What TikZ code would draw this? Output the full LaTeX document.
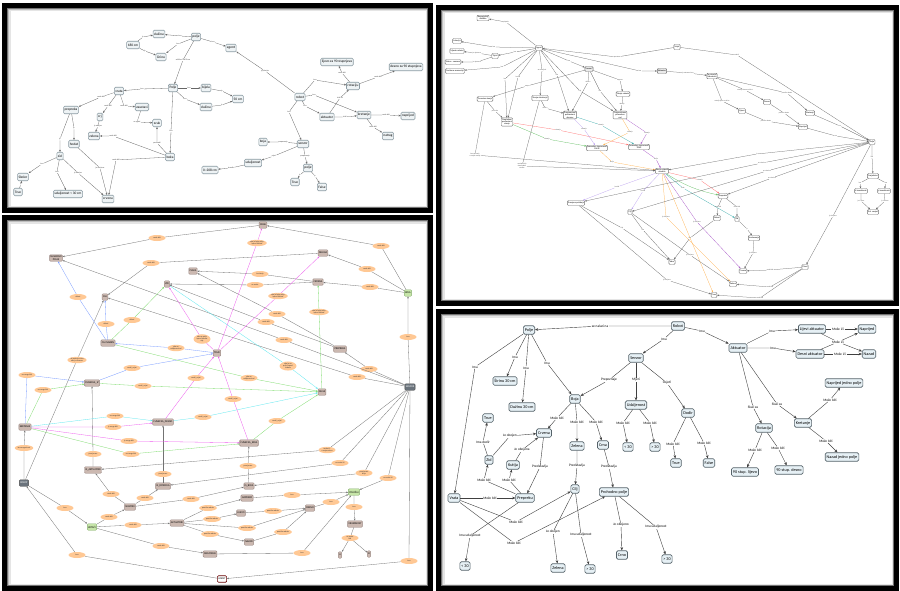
\documentclass[tikz,border=0pt]{standalone}
\usepackage{fontspec}
\setmainfont{Carlito}
\usetikzlibrary{arrows.meta,shapes.geometric}
\definecolor{nbA}{HTML}{EEF3F5}
\definecolor{dbA}{HTML}{8A9AA2}
\definecolor{nbD}{HTML}{E6F0F5}
\definecolor{dbD}{HTML}{56636A}
\definecolor{taupe}{HTML}{CBB8B0}
\definecolor{taupeD}{HTML}{9C8A84}
\definecolor{orn}{HTML}{FFC894}
\definecolor{grn}{HTML}{C6E5A8}
\definecolor{grnD}{HTML}{88B070}
\definecolor{slate}{HTML}{6A737C}
\definecolor{lblue}{HTML}{7A9CFF}
\definecolor{lgreen}{HTML}{7EDC6E}
\definecolor{lcyan}{HTML}{5CE8F0}
\definecolor{lmag}{HTML}{EE5CEE}
\definecolor{cRed}{HTML}{FF6B6B}
\definecolor{cGrn}{HTML}{5DBB5D}
\definecolor{cTeal}{HTML}{3AAAAA}
\definecolor{cPur}{HTML}{A855C8}
\definecolor{cOrg}{HTML}{FFB04A}
\definecolor{cVio}{HTML}{BBA0F0}
\newcommand\LK[7]{\node[#1] (#2) at (#3) {#4}; \draw[#5] (#6) -- (#2) -- (#7);}
\newcommand\EL[4]{\draw[#1] (#2) -- (#3) -- (#4);}
\newcommand\panelframe[4]{%
 \fill[black] (#1,#2) rectangle (#3,#4);
 \fill[black!55] ({#1+5},{#2+5}) rectangle ({#3-5},{#4-5});
 \fill[black!25] ({#1+6},{#2+6}) rectangle ({#3-6},{#4-6});
 \fill[black!10] ({#1+7},{#2+7}) rectangle ({#3-6.5},{#4-6.5});
 \fill[white] ({#1+8.5},{#2+8.5}) rectangle ({#3-7},{#4-7});}
\tikzset{
 p1n/.style={rectangle,rounded corners=1.2pt,draw=dbA,fill=nbA,line width=0.55pt,inner sep=1.1pt,minimum height=7.5pt,font=\fontsize{3.5}{3.8}\selectfont},
 p1l/.style={inner sep=0.3pt,font=\fontsize{2}{2.2}\selectfont,text=black!75},
 p1e/.style={draw=black!60,line width=0.3pt,-{Stealth[length=2.2pt,width=1.8pt]}},
 p2n/.style={rectangle,rounded corners=1pt,draw=black!55,fill=white,line width=0.45pt,inner sep=0.8pt,minimum height=5pt,align=center,font=\fontsize{2.2}{2.4}\selectfont},
 p2l/.style={inner sep=0.3pt,align=center,font=\fontsize{1.7}{1.9}\selectfont,text=black!75},
 p2e/.style={draw=black!60,line width=0.25pt,-{Stealth[length=2pt,width=1.6pt]}},
 p3n/.style={rectangle,rounded corners=1pt,draw=taupeD,fill=taupe,line width=0.45pt,inner sep=0.9pt,minimum height=6.5pt,align=center,font=\fontsize{2.6}{2.8}\selectfont},
 p3g/.style={p3n,draw=grnD,fill=grn},
 p3d/.style={p3n,draw=black!70,fill=slate,text=white},
 p3o/.style={ellipse,fill=orn,inner sep=0.3pt,minimum height=6pt,minimum width=17pt,align=center,font=\fontsize{2}{2.2}\selectfont,text=black!80},
 p3e/.style={draw=black!55,line width=0.3pt,-{Stealth[length=2pt,width=1.6pt]}},
 p4n/.style={rectangle,rounded corners=1.5pt,draw=dbD,fill=nbD,line width=0.65pt,inner sep=1.5pt,minimum height=8.5pt,font=\fontsize{4.2}{4.6}\selectfont},
 p4l/.style={fill=white,inner sep=0.5pt,font=\fontsize{3.5}{3.9}\selectfont},
 p4e/.style={draw=black!75,line width=0.4pt,-{Stealth[length=3.2pt,width=2.6pt]}},
}
\begin{document}
\begin{tikzpicture}[x=1pt,y=-1pt]
\useasboundingbox (0,0) rectangle (900,591);
\fill[white] (0,0) rectangle (900,591);
\panelframe{2}{3}{433}{213}
\panelframe{436}{5}{899}{306}
\panelframe{2}{215}{433}{591}
\panelframe{436}{309}{899}{591}

% ================= PANEL 1 =================
\node[p1n] (a1) at (159,34) {dužinu};
\node[p1n] (a2) at (133,45) {180 cm};
\node[p1n] (a3) at (161,57) {širinu};
\node[p1n] (a4) at (196,37) {polje};
\node[p1n] (a5) at (231,48) {agent};
\node[p1n] (a6) at (173,88) {Polje};
\node[p1n] (a7) at (206,88) {bijela};
\node[p1n] (a8) at (206,107) {dužinu};
\node[p1n] (a9) at (238,99) {50 cm};
\node[p1n] (a10) at (119,91) {vrata};
\node[p1n] (a11) at (71,110) {prepreka};
\node[p1n] (a12) at (142,107) {zaustavi};
\node[p1n] (a13) at (100,117) {crj};
\node[p1n] (a14) at (94,136) {zelena};
\node[p1n] (a15) at (157,123) {zvuk};
\node[p1n] (a16) at (74,144) {hodat};
\node[p1n] (a17) at (170,157) {boka};
\node[p1n] (a18) at (60,156) {zid};
\node[p1n] (a19) at (23,177) {Skoler};
\node[p1n] (a20) at (18,192) {True};
\node[p1n] (a21) at (68,194) {udaljenost < 30 cm};
\node[p1n] (a22) at (108,199) {crvena};
\node[p1n] (a23) at (210,170) {0--208 cm};
\node[p1n] (a24) at (300,97) {robot};
\node[p1n] (a25) at (337,62) {lijevo za 90 stupnjeva};
\node[p1n] (a26) at (406,67) {desno za 90 stupnjeva};
\node[p1n] (a27) at (353,86) {rotaciju};
\node[p1n] (a28) at (327,117) {aktuator};
\node[p1n] (a29) at (364,115) {kretanje};
\node[p1n] (a30) at (408,116) {naprijed};
\node[p1n] (a31) at (388,136) {natrag};
\node[p1n] (a32) at (263,142) {boja};
\node[p1n] (a33) at (303,144) {senzor};
\node[p1n] (a34) at (253,163) {udaljenost};
\node[p1n] (a35) at (308,168) {polje};
\node[p1n] (a36) at (295,182) {True};
\node[p1n] (a37) at (322,187) {False};
\LK{p1l}{s1}{180,36}{ima}{p1e}{a4}{a1}
\LK{p1l}{s2}{178,44}{ima}{p1e}{a4}{a3}
\LK{p1l}{s3}{143,37}{je}{p1e}{a2}{a1}
\LK{p1l}{s4}{145,51}{je}{p1e}{a2}{a3}
\LK{p1l}{s5}{213,42}{ima}{p1e}{a4}{a5}
\LK{p1l}{s6}{183,60}{veličine 30x30 cm}{p1e}{a4}{a6}
\LK{p1l}{s7}{142,89}{ima}{p1e}{a6}{a10}
\LK{p1l}{s8}{189,88}{ima}{p1e}{a6}{a7}
\LK{p1l}{s9}{185,99}{ima}{p1e}{a6}{a8}
\LK{p1l}{s10}{222,91}{je}{p1e}{a7}{a9}
\LK{p1l}{s11}{222,105}{je}{p1e}{a8}{a9}
\LK{p1l}{s12}{171,131}{ima}{p1e}{a6}{a17}
\LK{p1l}{s13}{101,97}{može biti}{p1e}{a10}{a11}
\LK{p1l}{s14}{108,106}{može biti}{p1e}{a10}{a13}
\LK{p1l}{s15}{124,106}{može biti}{p1e}{a10}{a12}
\LK{p1l}{s16}{98,126}{je obojen}{p1e}{a13}{a14}
\LK{p1l}{s17}{137,122}{se oglasi}{p1e}{a12}{a15}
\LK{p1l}{s18}{157,143}{proizvodi}{p1e}{a17}{a15}
\LK{p1l}{s19}{113,136}{može biti}{p1e}{a17}{a14}
\LK{p1l}{s20}{116,160}{može biti}{p1e}{a17}{a22}
\LK{p1l}{s21}{60,139}{je}{p1e}{a11}{a18}
\LK{p1l}{s22}{74,128}{je}{p1e}{a11}{a16}
\LK{p1l}{s23}{100,168}{je obojena}{p1e}{a16}{a22}
\LK{p1l}{s24}{42,164}{ima}{p1e}{a18}{a19}
\LK{p1l}{s25}{57,172}{ima}{p1e}{a18}{a21}
\LK{p1l}{s26}{78,173}{je obojen}{p1e}{a18}{a22}
\LK{p1l}{s27}{21,184}{je}{p1e}{a20}{a19}
\LK{p1l}{s28}{265,71}{je primjer}{p1e}{a24}{a5}
\LK{p1l}{s29}{315,80}{ima}{p1e}{a24}{a27}
\LK{p1l}{s30}{314,95}{ima}{p1e}{a24}{a29}
\LK{p1l}{s31}{305,106}{ima}{p1e}{a24}{a28}
\LK{p1l}{s32}{289,112}{ima}{p1e}{a24}{a33}
\LK{p1l}{s33}{340,98}{služi za}{p1e}{a28}{a27}
\LK{p1l}{s34}{346,117}{služi za}{p1e}{a28}{a29}
\LK{p1l}{s35}{342,73}{može biti}{p1e}{a27}{a25}
\LK{p1l}{s36}{378,77}{može biti}{p1e}{a27}{a26}
\LK{p1l}{s37}{386,115}{može biti}{p1e}{a29}{a30}
\LK{p1l}{s38}{373,127}{može biti}{p1e}{a29}{a31}
\LK{p1l}{s39}{283,142}{prepoznaje}{p1e}{a33}{a32}
\LK{p1l}{s40}{274,156}{mjeri}{p1e}{a33}{a34}
\LK{p1l}{s41}{305,156}{prepoznaje}{p1e}{a33}{a35}
\LK{p1l}{s42}{231,168}{između}{p1e}{a34}{a23}
\LK{p1l}{s43}{300,175}{je}{p1e}{a35}{a36}
\LK{p1l}{s44}{315,176}{je}{p1e}{a35}{a37}

% ================= PANEL 2 =================
\node[p2n] (b0) at (483,18) {Nagovještaj\\zadatka};
\node[p2n] (bH) at (539,48) {Agent};
\node[p2n] (bL1) at (457,41) {Lokacija};
\node[p2n] (bL2) at (457,51) {Mjesto robota};
\node[p2n] (bL3) at (453,62) {Status - senzora};
\node[p2n] (bL4) at (455,71) {Sortirane memorije};
\node[p2n] (bT) at (495,56) {Tijelo};
\node[p2n,fill=black!8] (bS) at (589,69) {Senzori};
\node[p2n,fill=black!8] (bAK) at (662,71) {Aktuator};
\node[p2n] (bSV) at (677,47) {Svijet};
\node[p2n] (bJR) at (712,76) {je rotacija\\aktuatora};
\node[p2n] (bLJ) at (767,102) {Desno};
\node[p2n] (bDS) at (742,111) {Lijevo};
\node[p2n] (bKR) at (810,113) {Kretanje};
\node[p2n] (bNP) at (803,127) {Naprijed};
\node[p2n] (bPO) at (872,142) {Polje};
\node[p2n] (bSU) at (873,176) {Susjedstvo};
\node[p2n] (bXK) at (861,191) {x koordinata};
\node[p2n] (bYK) at (884,191) {y koordinata};
\node[p2n] (bPS) at (873,212) {Pol. susjed};
\node[p2n] (bTS) at (485,99) {Trenutno stanje};
\node[p2n] (bPP) at (507,122) {Pregledani\\procesirani\\stanje};
\node[p2n] (bSO) at (540,98) {Stanje okruženja};
\node[p2n] (bPG) at (570,115) {Programirani\\procesirani\\obrazac};
\node[p2n] (bSR) at (623,94) {Stanje robota};
\node[p2n] (bPR) at (620,115) {Programirane\\procedure\\rad};
\node[p2n] (bPF) at (597,148) {procedura ispravnosti\\FALSE};
\node[p2n] (bPT) at (639,147) {procedura ispravnosti\\TRUE};
\node[p2n] (bAH) at (662,171) {Akcija robota\\modela};
\node[p2n] (bPZ) at (576,203) {Procjena položaja};
\node[p2n] (bCI) at (630,212) {Cilj};
\node[p2n] (bPE) at (723,196) {Prepreka};
\node[p2n] (bRO) at (717,218) {Robot};
\node[p2n] (bZI) at (737,219) {Zid};
\node[p2n] (bIZ) at (754,238) {Izvršavanje};
\node[p2n] (bIB) at (672,262) {Izbor};
\node[p2n] (bCR) at (743,271) {Crvena};
\node[p2n] (bZE) at (733,284) {Zelena};
\node[p2n] (bCN) at (714,295) {Crno};
\node[p2n] (bPL) at (805,267) {Plava};
\LK{p2l}{r1}{506,22}{pripada}{p2e}{bH}{b0}
\LK{p2l}{r2}{494,47}{ima}{p2e}{bH}{bL1}
\LK{p2l}{r3}{515,52}{ima}{p2e}{bH}{bT}
\LK{p2l}{r4}{477,53}{je mjesto za}{p2e}{bT}{bL2}
\LK{p2l}{r5}{477,62}{je mjesto za}{p2e}{bT}{bL3}
\LK{p2l}{r6}{502,67}{ima}{p2e}{bH}{bL4}
\LK{p2l}{r7}{505,79}{ima}{p2e}{bH}{bPP}
\LK{p2l}{r8}{518,77}{koristi}{p2e}{bH}{bPP}
\LK{p2l}{r9}{542,70}{se sastoji od}{p2e}{bH}{bSO}
\LK{p2l}{r10}{557,75}{ima}{p2e}{bH}{bPG}
\LK{p2l}{r11}{580,91}{nije}{p2e}{bH}{bPR}
\LK{p2l}{r12}{600,91}{ima}{p2e}{bS}{bPR}
\LK{p2l}{r13}{569,61}{ima}{p2e}{bH}{bS}
\LK{p2l}{r14}{617,57}{operatore}{p2e}{bSV}{bH}
\LK{p2l}{r15}{640,71}{ima}{p2e}{bH}{bAK}
\LK{p2l}{r16}{620,80}{dogovor}{p2e}{bS}{bSR}
\LK{p2l}{r17}{588,82}{ažurira}{p2e}{bS}{bPG}
\LK{p2l}{r18}{622,104}{obavlja}{p2e}{bSR}{bPR}
\LK{p2l}{r19}{545,108}{ažurira}{p2e}{bSO}{bPG}
\LK{p2l}{r20}{527,86}{mapa}{p2e}{bS}{bTS}
\LK{p2l}{r21}{495,111}{procesira}{p2e}{bTS}{bPP}
\LK{p2l}{r22}{558,130}{ukazuje}{p2e,draw=cRed}{bPP}{bPT}
\LK{p2l}{r23}{547,139}{ukazuje}{p2e,draw=cGrn}{bPP}{bPF}
\LK{p2l}{r24}{584,129}{ukazuje}{p2e,draw=cVio}{bPG}{bPF}
\LK{p2l}{r25}{601,125}{ukazuje}{p2e,draw=cTeal}{bPG}{bPT}
\LK{p2l}{r26}{630,132}{ukazuje}{p2e,draw=cOrg}{bPR}{bPF}
\LK{p2l}{r27}{647,133}{ukazuje}{p2e,draw=cPur}{bPR}{bPT}
\LK{p2l}{r28}{612,162}{akcija}{p2e,draw=cOrg}{bPF}{bAH}
\LK{p2l}{r29}{656,159}{akcija}{p2e,draw=cPur}{bPT}{bAH}
\LK{p2l}{r30}{475,155}{ima spoznaju\\o svojem stanju}{p2e}{bTS}{bAH}
\LK{p2l}{r31}{522,166}{manipulacija\\elementima\\sredine}{p2e}{bSO}{bAH}
\LK{p2l}{r32}{700,180}{ukazuje}{p2e,draw=cRed}{bAH}{bPE}
\draw[p2e,draw=cGrn] (bAH) to[bend right=10] (bPE);
\LK{p2l}{r33}{683,188}{kaže}{p2e,draw=cTeal}{bAH}{bZI}
\LK{p2l}{r34}{643,191}{koristi}{p2e,draw=cVio}{bAH}{bCI}
\LK{p2l}{r35}{617,187}{koristi}{p2e,draw=cVio}{bAH}{bPZ}
\LK{p2l}{r36}{697,222}{je obojeno}{p2e,draw=cPur}{bAH}{bCR}
\LK{p2l}{r37}{666,217}{je obojeno}{p2e,draw=cOrg}{bAH}{bZE}
\draw[p2e,draw=cOrg] (bAH) -- (bCN);
\LK{p2l}{r38}{757,154}{je}{p2e}{bPO}{bAH}
\LK{p2l}{r39}{762,163}{se nalazi na}{p2e}{bPO}{bPZ}
\LK{p2l}{r40}{767,171}{se nalazi na}{p2e}{bPO}{bCI}
\LK{p2l}{r41}{772,178}{se nalazi na}{p2e}{bPO}{bPE}
\LK{p2l}{r42}{622,228}{nije}{p2e}{bPZ}{bIB}
\LK{p2l}{r43}{667,280}{je obojeno}{p2e}{bPZ}{bCN}
\LK{p2l}{r44}{643,230}{ima}{p2e}{bCI}{bIB}
\LK{p2l}{r45}{690,238}{ima}{p2e}{bRO}{bIB}
\LK{p2l}{r46}{747,229}{je}{p2e}{bZI}{bIZ}
\LK{p2l}{r47}{753,253}{je obojeno}{p2e}{bIZ}{bCR}
\LK{p2l}{r48}{690,255}{je obojeno}{p2e}{bCI}{bZE}
\LK{p2l}{r49}{770,270}{može biti}{p2e}{bPL}{bCR}
\LK{p2l}{r50}{770,287}{može biti}{p2e}{bPL}{bZE}
\LK{p2l}{r51}{760,298}{može biti}{p2e}{bPL}{bCN}
\LK{p2l}{r52}{833,216}{je obojeno}{p2e}{bPO}{bPL}
\LK{p2l}{r53}{718,207}{može biti}{p2e}{bPE}{bRO}
\LK{p2l}{r54}{737,207}{može biti}{p2e}{bPE}{bZI}
\LK{p2l}{r55}{872,157}{ima}{p2e}{bPO}{bSU}
\LK{p2l}{r56}{860,183}{ima}{p2e}{bSU}{bXK}
\LK{p2l}{r57}{886,183}{ima}{p2e}{bSU}{bYK}
\LK{p2l}{r58}{861,201}{je 1 lijevo}{p2e}{bXK}{bPS}
\LK{p2l}{r59}{885,201}{je 1 desno}{p2e}{bYK}{bPS}
\LK{p2l}{r60}{688,73}{je ostvaren kroz}{p2e}{bAK}{bJR}
\LK{p2l}{r61}{745,90}{rotacija desno za 90 st}{p2e}{bJR}{bLJ}
\LK{p2l}{r62}{722,101}{rotacija lijevo za 90 st}{p2e}{bJR}{bDS}
\LK{p2l}{r63}{787,93}{pomiče robota}{p2e}{bJR}{bKR}
\LK{p2l}{r64}{766,121}{pomiče robota}{p2e}{bDS}{bNP}
\LK{p2l}{r65}{784,113}{pomiče robota}{p2e}{bLJ}{bNP}
\LK{p2l}{r66}{840,126}{ne}{p2e}{bKR}{bPO}
\LK{p2l}{r67}{836,136}{ne}{p2e}{bNP}{bPO}
\LK{p2l}{r68}{737,55}{sadrži}{p2e}{bSV}{bPO}

% ================= PANEL 3 =================
\node[p3n] (c1) at (56,258) {SUSJEDNO\\POLJE};
\node[p3n] (c2) at (193,271) {PLAVA};
\node[p3n] (c3) at (167,284) {ZID};
\node[p3n] (c4) at (105,297) {CILJ};
\node[p3n] (c5) at (108,343) {CILJ NAĐEN};
\node[p3n] (c6) at (217,353) {TRUE};
\node[p3n] (c7) at (263,225) {CRNA};
\node[p3n] (c8) at (323,253) {ZELENA};
\node[p3n] (c9) at (318,282) {CRVENA};
\node[p3g] (c10) at (408,293) {BOJA};
\node[p3n] (c11) at (340,349) {PREPREKA};
\node[p3n] (c12) at (322,392) {FALSE};
\node[p3d] (c13) at (410,387) {SENZOR};
\node[p3n] (c14) at (92,383) {FUNKCIJA\_IZ};
\node[p3n] (c15) at (163,422) {FUNKCIJA\_DESNO};
\node[p3n] (c16) at (249,443) {FUNKCIJA\_BOJA};
\node[p3n] (c17) at (25,427) {KRETANJE};
\node[p3d] (c18) at (24,483) {ROBOT};
\node[p3n] (c19) at (93,470) {IS\_AKTUATORI};
\node[p3n] (c20) at (163,486) {IS\_ROTACIJA};
\node[p3n] (c21) at (130,507) {SENZORI};
\node[p3g] (c22) at (92,527) {KOTAČI};
\node[p3n] (c23) at (177,523) {AKTUATORI};
\node[p3n] (c24) at (210,554) {MEMORIJA};
\node[p3n,fill=white,draw=black!60!red,line width=0.6pt] (c25) at (222,579) {AGENT};
\node[p3n] (c26) at (249,486) {IS\_BOJA};
\node[p3n] (c27) at (247,498) {NAPRIJED};
\node[p3n] (c28) at (241,513) {LIJEVO};
\node[p3n] (c29) at (310,508) {DESNO};
\node[p3n] (c30) at (249,542) {NAZAD};
\node[p3g] (c31) at (354,492) {POLOŽAJ};
\node[p3n] (c32) at (355,524) {VRIJEDNOST};
\node[p3n] (c33) at (340,555) {A};
\node[p3n] (c34) at (369,554) {B};
% ellipses
\node[p3o] (e1) at (157,238) {može biti};
\node[p3o] (e2) at (151,263) {može biti};
\node[p3o] (e3) at (78,297) {dolazi};
\node[p3o] (e4) at (106,324) {dolazi};
\node[p3o] (e5) at (132,320) {dolazi};
\node[p3o] (e6) at (202,339) {ako na polju\\ispred robota\\nije};
\node[p3o] (e7) at (176,348) {ako ne\\udaljenost od};
\node[p3o] (e8) at (77,360) {ali postoje vrata\\ako je otvoren};
\node[p3o] (e9) at (132,368) {ovaki\_uvjet};
\node[p3o] (e10) at (27,375) {ne mogu biti};
\node[p3o] (e11) at (43,390) {ne mogu biti};
\node[p3o] (e12) at (143,386) {ovaki\_uvjet};
\node[p3o] (e13) at (196,378) {ovaki\_uvjet};
\node[p3o] (e14) at (257,243) {ako je boja polja\\ispred robota};
\node[p3o] (e15) at (381,246) {može biti};
\node[p3o] (e16) at (260,274) {ima boju};
\node[p3o] (e17) at (367,269) {može biti};
\node[p3o] (e18) at (255,285) {ne može};
\node[p3o] (e19) at (370,287) {može biti};
\node[p3o] (e20) at (278,296) {ako je boja polja\\ispred robota};
\node[p3o] (e21) at (319,312) {ako je boja polja\\ispred robota};
\node[p3o] (e22) at (277,314) {može biti};
\node[p3o] (e23) at (266,322) {može biti};
\node[p3o] (e24) at (284,340) {može biti};
\node[p3o] (e25) at (408,337) {ima};
\node[p3o] (e26) at (288,366) {ako je na\\polju ispred\\robota};
\node[p3o] (e27) at (369,369) {može biti};
\node[p3o] (e28) at (357,377) {može biti};
\node[p3o] (e29) at (249,378) {ako ne\\udaljenost od};
\node[p3o] (e30) at (233,399) {ovaki\_uvjet};
\node[p3o] (e31) at (115,416) {ne mogu biti};
\node[p3o] (e32) at (113,427) {je mogu biti};
\node[p3o] (e33) at (129,441) {je mogu biti};
\node[p3o] (e34) at (131,454) {ne mogu biti};
\node[p3o] (e35) at (203,417) {ovaki\_uvjet};
\node[p3o] (e36) at (277,421) {ovaki\_uvjet};
\node[p3o] (e37) at (24,448) {ima mogućnost};
\node[p3o] (e38) at (93,454) {provjerava};
\node[p3o] (e39) at (163,474) {provjerava};
\node[p3o] (e40) at (248,466) {provjerava};
\node[p3o] (e41) at (327,450) {može ići\\u smjerovima};
\node[p3o] (e42) at (340,463) {ne može ići};
\node[p3o] (e43) at (364,473) {provjerava\\boje};
\node[p3o] (e44) at (388,478) {ne može ići};
\node[p3o] (e45) at (111,494) {može biti};
\node[p3o] (e46) at (145,498) {može biti};
\node[p3o] (e47) at (65,508) {ima};
\node[p3o] (e48) at (109,517) {može biti};
\node[p3o] (e49) at (133,525) {može biti};
\node[p3o] (e50) at (191,499) {može biti};
\node[p3o] (e51) at (208,508) {pomiče robota};
\node[p3o] (e52) at (212,519) {pomiče robota};
\node[p3o] (e53) at (210,534) {pomiče robota};
\node[p3o] (e54) at (247,528) {pomiče robota};
\node[p3o] (e55) at (273,511) {pomiče robota};
\node[p3o] (e56) at (283,532) {pomiče robota};
\node[p3o] (e57) at (292,495) {ima};
\node[p3o] (e58) at (331,502) {ima};
\node[p3o] (e59) at (354,507) {ima};
\node[p3o] (e60) at (350,538) {ne može\\biti};
\node[p3o] (e61) at (161,546) {može biti};
\node[p3o] (e62) at (302,553) {ima};
\node[p3o] (e63) at (77,555) {ima};
\node[p3o] (e64) at (409,561) {ima};
% gray
\EL{p3e}{c7}{e1}{c1}
\EL{p3e}{c8}{e2}{c4}
\EL{p3e}{c10}{e15}{c7}
\EL{p3e}{c10}{e17}{c8}
\EL{p3e}{c10}{e19}{c9}
\EL{p3e}{c13}{e25}{c10}
\EL{p3e}{c9}{e16}{c2}
\EL{p3e}{c9}{e18}{c3}
\EL{p3e}{c11}{e22}{c2}
\EL{p3e}{c11}{e23}{c3}
\EL{p3e}{c13}{e24}{c1}
\EL{p3e}{c13}{e28}{c4}
\EL{p3e}{c13}{e27}{c11}
\EL{p3e}{c18}{e8}{c4}
\EL{p3e}{c18}{e37}{c17}
\EL{p3e}{c18}{e47}{c22}
\EL{p3e}{c25}{e63}{c18}
\EL{p3e}{c13}{e64}{c25}
\EL{p3e}{c22}{e48}{c21}
\EL{p3e}{c22}{e49}{c23}
\EL{p3e}{c22}{e61}{c24}
\EL{p3e}{c21}{e45}{c19}
\EL{p3e}{c21}{e46}{c20}
\EL{p3e}{c21}{e50}{c26}
\EL{p3e}{c23}{e51}{c27}
\EL{p3e}{c23}{e52}{c28}
\EL{p3e}{c23}{e53}{c30}
\EL{p3e}{c23}{e54}{c29}
\EL{p3e}{c28}{e55}{c29}
\EL{p3e}{c30}{e56}{c29}
\EL{p3e}{c27}{e57}{c31}
\EL{p3e}{c29}{e58}{c31}
\EL{p3e}{c24}{e62}{c31}
\EL{p3e}{c31}{e59}{c32}
\draw[p3e,-] (c32) -- (e60);
\draw[p3e] (e60) -- (c33);
\draw[p3e] (e60) -- (c34);
\EL{p3e}{c19}{e38}{c14}
\EL{p3e}{c20}{e39}{c15}
\EL{p3e}{c26}{e40}{c16}
\EL{p3e}{c13}{e41}{c19}
\EL{p3e}{c13}{e42}{c20}
\EL{p3e}{c13}{e43}{c26}
\EL{p3e}{c13}{e44}{c31}
% blue
\EL{p3e,draw=lblue}{c5}{e4}{c4}
\EL{p3e,draw=lblue}{c5}{e3}{c1}
\EL{p3e,draw=lblue}{c14}{e9}{c6}
\EL{p3e,draw=lblue}{c6}{e7}{c5}
\EL{p3e,draw=lblue}{c17}{e10}{c14}
% green
\EL{p3e,draw=lgreen}{c5}{e5}{c3}
\EL{p3e,draw=lgreen}{c5}{e29}{c12}
\EL{p3e,draw=lgreen}{c14}{e12}{c12}
\EL{p3e,draw=lgreen}{c17}{e11}{c14}
\EL{p3e,draw=lgreen}{c17}{e34}{c16}
\EL{p3e,draw=lgreen}{c16}{e36}{c12}
\EL{p3e,draw=lgreen}{c12}{e21}{c9}
% cyan
\EL{p3e,draw=lcyan}{c3}{e26}{c12}
\EL{p3e,draw=lcyan}{c17}{e31}{c15}
\EL{p3e,draw=lcyan}{c15}{e35}{c12}
% magenta
\EL{p3e,draw=lmag}{c6}{e14}{c7}
\EL{p3e,draw=lmag}{c6}{e20}{c8}
\EL{p3e,draw=lmag}{c6}{e6}{c3}
\EL{p3e,draw=lmag}{c15}{e13}{c6}
\EL{p3e,draw=lmag}{c16}{e30}{c6}
\EL{p3e,draw=lmag}{c17}{e32}{c15}
\EL{p3e,draw=lmag}{c17}{e33}{c16}

% ================= PANEL 4 =================
\node[p4n] (d1) at (529,330) {Polje};
\node[p4n] (d2) at (678,326) {Robot};
\node[p4n] (d3) at (636,358) {Senzor};
\node[p4n] (d4) at (738,348) {Aktuator};
\node[p4n] (d5) at (812,329) {Lijevi aktuator};
\node[p4n] (d6) at (810,354) {Desni aktuator};
\node[p4n] (d7) at (867,329) {Naprijed};
\node[p4n] (d8) at (869,354) {Nazad};
\node[p4n] (d9) at (505,381) {Širinu 30 cm};
\node[p4n] (d10) at (522,407) {Dužinu 30 cm};
\node[p4n] (d11) at (575,399) {Boja};
\node[p4n] (d12) at (636,405) {Udaljenost};
\node[p4n] (d13) at (688,413) {Dodir};
\node[p4n] (d14) at (488,418) {True};
\node[p4n] (d15) at (544,433) {Crvena};
\node[p4n] (d16) at (577,446) {Zelena};
\node[p4n] (d17) at (603,445) {Crna};
\node[p4n] (d18) at (628,447) {< 30};
\node[p4n] (d19) at (655,447) {> 30};
\node[p4n] (d20) at (676,463) {True};
\node[p4n] (d21) at (709,463) {False};
\node[p4n] (d22) at (764,428) {Rotacija};
\node[p4n] (d23) at (803,423) {Kretanje};
\node[p4n] (d24) at (844,383) {Naprijed jedno polje};
\node[p4n] (d25) at (842,457) {Nazad jedno polje};
\node[p4n] (d26) at (745,472) {90 stup. lijevo};
\node[p4n] (d27) at (789,470) {90 stup. desno};
\node[p4n] (d28) at (489,460) {Zid};
\node[p4n] (d29) at (513,465) {Kutija};
\node[p4n] (d30) at (454,498) {Vrata};
\node[p4n] (d31) at (525,498) {Prepreku};
\node[p4n] (d32) at (575,489) {Cilj};
\node[p4n] (d33) at (614,492) {Prohodno polje};
\node[p4n] (d34) at (465,566) {< 30};
\node[p4n] (d35) at (558,568) {Zelena};
\node[p4n] (d36) at (590,569) {> 30};
\node[p4n] (d37) at (622,555) {Crno};
\node[p4n] (d38) at (667,559) {> 30};
\LK{p4l}{q1}{600,326}{se nalazi na}{p4e}{d2}{d1}
\LK{p4l}{q2}{664,339}{Ima}{p4e}{d2}{d3}
\LK{p4l}{q3}{702,331}{Ima}{p4e}{d2}{d4}
\LK{p4l}{q4}{772,331}{Ima}{p4e}{d4}{d5}
\LK{p4l}{q5}{773,348}{Ima}{p4e}{d4}{d6}
\LK{p4l}{q6}{838,329}{Može ići}{p4e}{d5}{d7}
\LK{p4l}{q7}{840,354}{Može ići}{p4e}{d6}{d8}
\node[p4l] (q8) at (838,342) {Može ići};
\draw[p4e,-] (d5) -- (q8);
\draw[p4e,-] (d6) -- (q8);
\draw[p4e] (q8) -- (d7);
\draw[p4e] (q8) -- (d8);
\LK{p4l}{q9}{753,407}{Služi za}{p4e}{d4}{d22}
\LK{p4l}{q10}{777,404}{Služi za}{p4e}{d4}{d23}
\LK{p4l}{q11}{830,400}{Može biti}{p4e}{d23}{d24}
\LK{p4l}{q12}{826,441}{Može biti}{p4e}{d23}{d25}
\LK{p4l}{q13}{755,450}{Može biti}{p4e}{d22}{d26}
\LK{p4l}{q14}{778,448}{Može biti}{p4e}{d22}{d27}
\LK{p4l}{q15}{609,380}{Prepoznaje}{p4e}{d3}{d11}
\LK{p4l}{q16}{636,380}{Mjeri}{p4e}{d3}{d12}
\LK{p4l}{q17}{667,383}{Osjeti}{p4e}{d3}{d13}
\LK{p4l}{q18}{623,423}{Može biti}{p4e}{d12}{d18}
\LK{p4l}{q19}{650,423}{Može biti}{p4e}{d12}{d19}
\LK{p4l}{q20}{673,444}{Može biti}{p4e}{d13}{d20}
\LK{p4l}{q21}{704,443}{Može biti}{p4e}{d13}{d21}
\LK{p4l}{q22}{515,357}{Ima}{p4e}{d1}{d9}
\LK{p4l}{q23}{526,368}{Ima}{p4e}{d1}{d10}
\LK{p4l}{q24}{547,363}{Ima}{p4e}{d1}{d11}
\LK{p4l}{q25}{475,367}{Ima}{p4e}{d1}{d30}
\LK{p4l}{q26}{557,418}{Može biti}{p4e}{d11}{d15}
\LK{p4l}{q27}{577,422}{Može biti}{p4e}{d11}{d16}
\LK{p4l}{q28}{596,422}{Može biti}{p4e}{d11}{d17}
\LK{p4l}{q29}{483,442}{Ima dodir}{p4e}{d28}{d14}
\LK{p4l}{q30}{510,436}{Je obojen}{p4e}{d28}{d15}
\LK{p4l}{q31}{522,450}{Je obojena}{p4e}{d29}{d15}
\LK{p4l}{q32}{540,467}{Predstavlja}{p4e}{d15}{d31}
\LK{p4l}{q33}{577,466}{Predstavlja}{p4e}{d16}{d32}
\LK{p4l}{q34}{609,467}{Predstavlja}{p4e}{d17}{d33}
\LK{p4l}{q35}{484,480}{Može biti}{p4e}{d31}{d28}
\LK{p4l}{q36}{509,480}{Može biti}{p4e}{d31}{d29}
\LK{p4l}{q37}{490,498}{Može biti}{p4e}{d30}{d31}
\LK{p4l}{q38}{516,522}{Može biti}{p4e}{d30}{d32}
\LK{p4l}{q39}{514,543}{Može biti}{p4e}{d30}{d33}
\LK{p4l}{q40}{470,536}{Ima udaljenost}{p4e}{d31}{d34}
\LK{p4l}{q41}{553,532}{Je obojen}{p4e}{d32}{d35}
\LK{p4l}{q42}{581,535}{Ima udaljenost}{p4e}{d32}{d36}
\LK{p4l}{q43}{621,525}{Je obojeno}{p4e}{d33}{d37}
\LK{p4l}{q44}{656,527}{Ima udaljenost}{p4e}{d33}{d38}
\end{tikzpicture}
\end{document}
